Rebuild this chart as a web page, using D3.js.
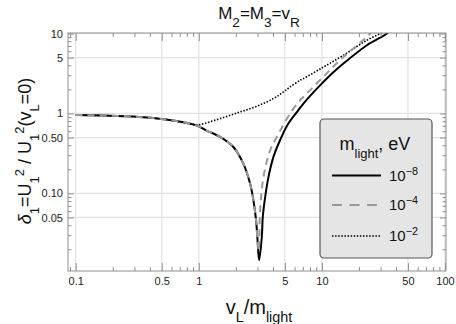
<!DOCTYPE html>
<html>
<head>
<meta charset="utf-8">
<script src="https://cdn.jsdelivr.net/npm/d3@7"></script>
<style>
  body { margin: 0; background: #fff; }
  svg { font-family: "Liberation Sans", Arial, sans-serif; }
</style>
</head>
<body>
<div id="chart"></div>
<script>
// values (x = vL/mlight, y = delta1)
const xSolid = [0.1, 0.291, 0.542, 0.951, 1.146, 1.489, 1.91, 2.30, 2.61, 2.78, 2.92, 2.99, 3.09, 3.25, 3.31, 3.46, 3.68, 4.04, 4.57, 5.34, 6.44, 7.08, 8.2, 9.98, 12.2, 14.95, 23.2, 33.7, 35.5];
const ySolid = [0.958, 0.915, 0.839, 0.712, 0.616, 0.508, 0.381, 0.236, 0.133, 0.082, 0.046, 0.0285, 0.0146, 0.0285, 0.0507, 0.090, 0.160, 0.286, 0.462, 0.748, 1.10, 1.33, 1.72, 2.36, 3.2, 4.21, 7.14, 10.0, 11.0];

const xDashed = [0.1, 0.291, 0.542, 0.951, 1.146, 1.489, 1.91, 2.30, 2.61, 2.78, 2.92, 3.0, 3.07, 3.15, 3.35, 3.80, 4.30, 5.52, 6.65, 7.08, 9.98, 14.95, 23.2, 27.0];
const yDashed = [0.958, 0.915, 0.839, 0.712, 0.616, 0.508, 0.381, 0.236, 0.133, 0.082, 0.046, 0.026, 0.019, 0.0615, 0.160, 0.346, 0.508, 1.0, 1.46, 1.61, 2.75, 5.09, 9.07, 11.5];

const xDotted = [0.1, 0.291, 0.542, 0.951, 1.02, 1.584, 2.165, 2.96, 4.04, 4.87, 5.52, 6.65, 7.08, 9.98, 14.95, 23.2, 31.6, 33.5];
const yDotted = [0.958, 0.915, 0.839, 0.72, 0.725, 0.889, 1.044, 1.23, 1.536, 1.858, 2.15, 2.60, 2.73, 3.7, 5.35, 8.24, 10.47, 11.2];

const legendExp = ["\u22128", "\u22124", "\u22122"];

const xMajor = [0.1, 0.5, 1, 5, 10, 50, 100];
const xMajorLabels = ["0.1", "0.5", "1", "5", "10", "50", "100"];
const yMajor = [0.05, 0.1, 0.5, 1, 5, 10];
const yMajorLabels = ["0.05", "0.10", "0.50", "1", "5", "10"];

const W = 456, H = 324;
const pL = 68, pR = 446, pT = 33, pB = 271;
const frameCol = "#8f8f8f";

const svg = d3.select("#chart").append("svg")
  .attr("width", W).attr("height", H);

const x = d3.scaleLog().domain([0.0866, 101.9]).range([pL, pR]);
const y = d3.scaleLog().domain([0.0107, 10.15]).range([pB, pT]);

// minor ticks: 2..9 of each decade inside the domain
function minors(scale) {
  const [a, b] = scale.domain();
  const out = [];
  for (let e = -3; e <= 2; e++) {
    for (let k = 1; k <= 9; k++) {
      const v = k * Math.pow(10, e);
      if (v >= a && v <= b) out.push(v);
    }
  }
  return out;
}
const xMinor = minors(x).filter(v => !xMajor.some(m => Math.abs(m - v) < 1e-9));
const yMinor = minors(y).filter(v => !yMajor.some(m => Math.abs(m - v) < 1e-9));

// grid
svg.append("g").selectAll("line").data(xMajor).join("line")
  .attr("x1", d => x(d)).attr("x2", d => x(d))
  .attr("y1", pT).attr("y2", pB)
  .attr("stroke", "#e2e2e2").attr("stroke-width", 1.2);
svg.append("g").selectAll("line").data(yMajor).join("line")
  .attr("x1", pL).attr("x2", pR)
  .attr("y1", d => y(d)).attr("y2", d => y(d))
  .attr("stroke", "#e2e2e2").attr("stroke-width", 1.2);

// curves
svg.append("clipPath").attr("id", "clip").append("rect")
  .attr("x", pL).attr("y", pT).attr("width", pR - pL).attr("height", pB - pT);

const line = d3.line().x(d => x(d[0])).y(d => y(d[1])).curve(d3.curveCatmullRom.alpha(0.5));
const plot = svg.append("g").attr("clip-path", "url(#clip)");

const series = [
  {xs: xSolid, ys: ySolid, color: "#000", dash: null, w: 2},
  {xs: xDashed, ys: yDashed, color: "#999", dash: "7,5", w: 2},
  {xs: xDotted, ys: yDotted, color: "#000", dash: "1.5,1.6", w: 1.6}
];
// dashed drawn over the solid one, like the reference
[series[0], series[2], series[1]].forEach(s => {
  plot.append("path")
    .datum(s.xs.map((v, i) => [v, s.ys[i]]))
    .attr("d", line)
    .attr("fill", "none")
    .attr("stroke", s.color)
    .attr("stroke-width", s.w)
    .attr("stroke-dasharray", s.dash);
});

// axes (inward ticks, Mathematica-like frame)
function styleAxis(g) {
  g.select(".domain").remove();
  g.selectAll("line").attr("stroke", frameCol);
  g.selectAll("text").attr("fill", "#222").attr("font-size", 11);
}
svg.append("g").attr("transform", `translate(0,${pB})`)
  .call(d3.axisBottom(x).tickValues(xMajor).tickFormat((d, i) => xMajorLabels[i]).tickSize(-8).tickPadding(6))
  .call(styleAxis);
svg.append("g").attr("transform", `translate(0,${pB})`)
  .call(d3.axisBottom(x).tickValues(xMinor).tickFormat("").tickSize(-4))
  .call(styleAxis);
svg.append("g").attr("transform", `translate(0,${pT})`)
  .call(d3.axisTop(x).tickValues(xMajor).tickFormat("").tickSize(-8))
  .call(styleAxis);
svg.append("g").attr("transform", `translate(0,${pT})`)
  .call(d3.axisTop(x).tickValues(xMinor).tickFormat("").tickSize(-4))
  .call(styleAxis);
svg.append("g").attr("transform", `translate(${pL},0)`)
  .call(d3.axisLeft(y).tickValues(yMajor).tickFormat((d, i) => yMajorLabels[i]).tickSize(-6).tickPadding(5))
  .call(styleAxis);
svg.append("g").attr("transform", `translate(${pL},0)`)
  .call(d3.axisLeft(y).tickValues(yMinor).tickFormat("").tickSize(-3.5))
  .call(styleAxis);
svg.append("g").attr("transform", `translate(${pR},0)`)
  .call(d3.axisRight(y).tickValues(yMajor).tickFormat("").tickSize(-6))
  .call(styleAxis);
svg.append("g").attr("transform", `translate(${pR},0)`)
  .call(d3.axisRight(y).tickValues(yMinor).tickFormat("").tickSize(-3.5))
  .call(styleAxis);

svg.append("rect")
  .attr("x", pL).attr("y", pT).attr("width", pR - pL).attr("height", pB - pT)
  .attr("fill", "none").attr("stroke", frameCol).attr("stroke-width", 1);

// text helper: parts = [[text, "sub"|"super"|null, italic]]
function rich(sel, parts, size, k = 0.72) {
  parts.forEach(p => {
    const t = sel.append("tspan").text(p[0]);
    if (p[1]) t.attr("baseline-shift", p[1]).attr("font-size", size * k);
    if (p[2]) t.attr("font-style", "italic");
  });
}

// title
const title = svg.append("text").attr("x", 259).attr("y", 19)
  .attr("text-anchor", "middle").attr("font-size", 17).attr("fill", "#111");
rich(title, [["M"], ["2", "sub"], ["=M"], ["3", "sub"], ["=v"], ["R", "sub"]], 17, 0.8);

// x label
const xl = svg.append("text").attr("x", 259).attr("y", 314)
  .attr("text-anchor", "middle").attr("font-size", 20).attr("fill", "#111");
rich(xl, [["v"], ["L", "sub"], ["/m"], ["light", "sub"]], 20);

// y label
const yl = svg.append("text").attr("transform", "translate(31,151) rotate(-90)")
  .attr("text-anchor", "middle").attr("font-size", 18).attr("fill", "#111");
rich(yl, [["\u03b4", null, true], ["1", "sub"], ["=U"], ["1", "sub"], ["2", "super"],
  [" / U"], ["1", "sub"], ["2", "super"], ["(v"], ["L", "sub"], ["=0)"]], 18);

// legend
const lg = svg.append("g");
lg.append("rect").attr("x", 320).attr("y", 119).attr("width", 112).attr("height", 139)
  .attr("rx", 4).attr("fill", "#e5e5e5").attr("stroke", "#555").attr("stroke-width", 1.2);
const lt = lg.append("text").attr("x", 375).attr("y", 150)
  .attr("text-anchor", "middle").attr("font-size", 18).attr("fill", "#111");
rich(lt, [["m"], ["light", "sub"], [", eV"]], 18);
const legendY = [175.5, 205, 236];
series.forEach((s, i) => {
  lg.append("line").attr("x1", 332).attr("x2", 381)
    .attr("y1", legendY[i]).attr("y2", legendY[i])
    .attr("stroke", s.color).attr("stroke-width", s.w)
    .attr("stroke-dasharray", s.dash === "7,5" ? "10,7.5" : s.dash);
  const t = lg.append("text").attr("x", 389).attr("y", legendY[i] + 5)
    .attr("font-size", 15).attr("fill", "#111");
  rich(t, [["10"], [legendExp[i], "super"]], 15);
});
</script>
</body>
</html>
